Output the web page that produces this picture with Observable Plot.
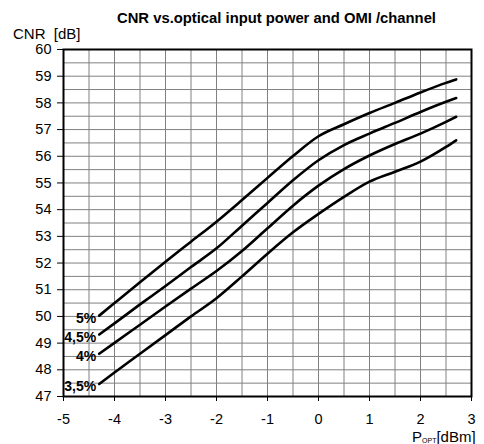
<!DOCTYPE html>
<html>
<head>
<meta charset="utf-8">
<script src="https://cdn.jsdelivr.net/npm/d3@7"></script>
<script src="https://cdn.jsdelivr.net/npm/@observablehq/plot@0.6"></script>
<style>
  html, body { margin: 0; padding: 0; background: white; }
  #chart { width: 484px; height: 444px; }
</style>
</head>
<body>
<div id="chart"></div>
<script>
// Optical input power P_OPT [dBm]
const pOpt = [-4.3, -4, -3.5, -3, -2.5, -2, -1.5, -1, -0.5, 0, 0.5, 1, 1.5, 2, 2.5, 2.7];
// CNR [dB] per OMI/channel
const cnr5  = [50.03, 50.50, 51.28, 52.05, 52.80, 53.55, 54.36, 55.19, 56.01, 56.75, 57.20, 57.62, 58.00, 58.39, 58.75, 58.88];
const cnr45 = [49.32, 49.74, 50.45, 51.14, 51.85, 52.55, 53.40, 54.25, 55.10, 55.85, 56.42, 56.85, 57.25, 57.66, 58.04, 58.18];
const cnr4  = [48.60, 49.01, 49.69, 50.37, 51.04, 51.70, 52.45, 53.30, 54.15, 54.90, 55.52, 56.03, 56.46, 56.85, 57.29, 57.48];
const cnr35 = [47.47, 47.90, 48.60, 49.30, 50.00, 50.68, 51.50, 52.35, 53.15, 53.84, 54.48, 55.05, 55.42, 55.80, 56.35, 56.60];
const seriesNames = ["5%", "4,5%", "4%", "3,5%"];
const seriesValues = [cnr5, cnr45, cnr4, cnr35];
const xTicks = [-5, -4, -3, -2, -1, 0, 1, 2, 3];
const yTicks = [47, 48, 49, 50, 51, 52, 53, 54, 55, 56, 57, 58, 59, 60];

const rows = [];
seriesNames.forEach((name, i) => {
  pOpt.forEach((x, j) => rows.push({series: name, x, y: seriesValues[i][j]}));
});
const labelRows = seriesNames.map((name, i) => ({series: name, x: pOpt[0], y: seriesValues[i][0]}));

const gridX = d3.range(-5, 3.001, 0.5);
const gridY = d3.range(47, 60.001, 0.5);

const font = "'Liberation Sans', Arial, Helvetica, sans-serif";

const svg = Plot.plot({
  width: 484,
  height: 444,
  marginTop: 49,
  marginRight: 13,
  marginBottom: 48,
  marginLeft: 63,
  style: {fontFamily: font, fontSize: "14.5px", background: "white", color: "black"},
  x: {domain: [-5, 3], ticks: xTicks, tickSize: 5, tickPadding: 12, label: null, tickFormat: d => String(d)},
  y: {domain: [47, 60], ticks: yTicks, tickSize: 6, tickPadding: 6, label: null, tickFormat: d => String(d)},
  marks: [
    Plot.ruleX(gridX, {stroke: "#808080", strokeWidth: 1}),
    Plot.ruleY(gridY, {stroke: "#808080", strokeWidth: 1}),
    Plot.line(rows, {x: "x", y: "y", z: "series", stroke: "black", strokeWidth: 2.6, curve: "monotone-x"}),
    Plot.text(labelRows, {x: "x", y: "y", text: "series", textAnchor: "end", dx: -3, dy: 3, fontWeight: "bold", fontSize: 14, fill: "black"}),
    Plot.frame({stroke: "black", strokeWidth: 2})
  ]
});

const s = d3.select(svg);
s.append("text")
  .attr("x", 117).attr("y", 23)
  .attr("text-anchor", "start")
  .attr("font-family", font).attr("font-size", 14.8).attr("font-weight", "bold")
  .attr("fill", "black")
  .text("CNR vs.optical input power and OMI /channel");
s.append("text")
  .attr("x", 13).attr("y", 39)
  .attr("text-anchor", "start")
  .attr("font-family", font).attr("font-size", 15)
  .attr("fill", "black")
  .style("white-space", "pre")
  .text("CNR  [dB]");
const xl = s.append("text")
  .attr("x", 412).attr("y", 442)
  .attr("text-anchor", "start")
  .attr("font-family", font).attr("font-size", 15)
  .attr("fill", "black");
xl.append("tspan").text("P");
xl.append("tspan").attr("font-size", 7).attr("dy", 1).text("OPT");
xl.append("tspan").attr("dy", -1).text("[dBm]");

document.getElementById("chart").appendChild(svg);
</script>
</body>
</html>
